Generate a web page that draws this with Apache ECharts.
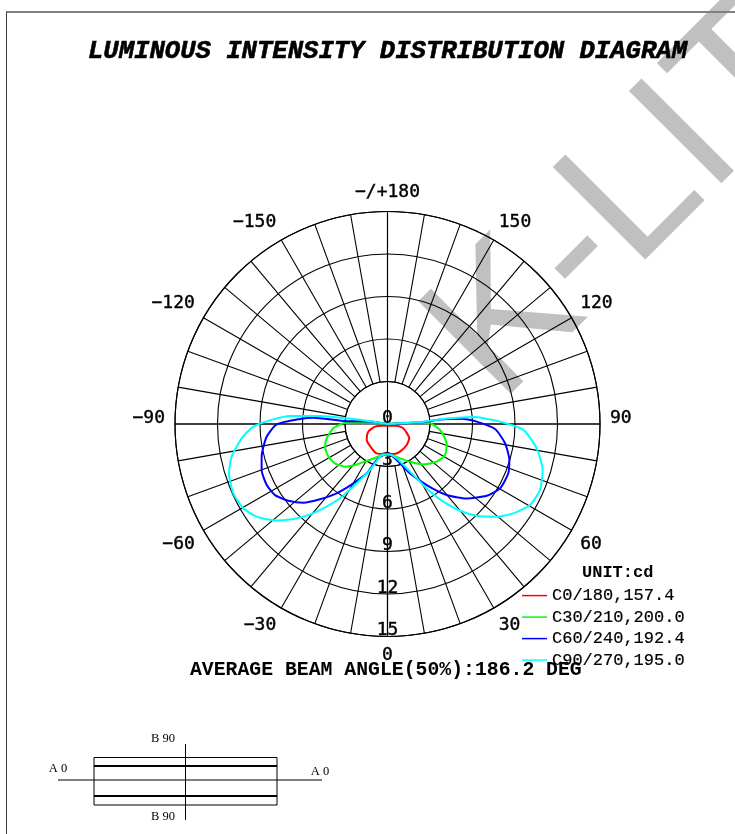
<!DOCTYPE html>
<html>
<head>
<meta charset="utf-8">
<style>
  html, body { margin: 0; background: #fff; }
  #main { width: 735px; height: 834px; }
</style>
</head>
<body>
<div id="main"></div>
<script src="https://cdn.jsdelivr.net/npm/echarts@6/dist/echarts.min.js"></script>
<script>
// angle from nadir (left side negative), intensity in ring units
const ringTicks = [0, 3, 6, 9, 12, 15]
const seriesNames = ['C0/180,157.4', 'C30/210,200.0', 'C60/240,192.4', 'C90/270,195.0']
const seriesColors = ['#ff0000', '#00ff00', '#0000ff', '#00ffff']

const c0Angles = [0, -74, -78, -68.2, -52.5, -33, -20.3, 0, 11, 24.3, 42.4, 56.7, 74.7, 79.7, 0]
const c0Values = [0.12, 0.43, 0.9, 1.46, 1.85, 2.05, 2.21, 2.12, 2.16, 2.14, 2.01, 1.84, 1.16, 0.66, 0.12]

const c30Angles = [-90, -95.5, -90.9, -85.4, -76.7, -70.1, -61.1, -53.2, -44.9, -38.4, -29.4, -18, -7.7, 0, 4.7, 17.8, 30.9, 41.6, 52.5, 61.7, 71.9, 83.5, 90.9, 94, 90]
const c30Values = [0, 1.48, 3.12, 3.84, 4.41, 4.69, 4.77, 4.63, 4.25, 3.69, 3, 2.47, 2.18, 2.16, 2.17, 2.5, 3.1, 3.81, 4.37, 4.61, 4.39, 3.73, 3, 1.36, 0]

const c60Angles = [-90, -99.4, -93.9, -94.9, -93.3, -89.8, -84, -75.4, -69.9, -63.2, -57.7, -52.3, -46.9, -41.9, -36.3, -29.9, -22.9, -16.7, -7.7, 0, 4.7, 14.3, 24.5, 32.7, 39.8, 46.8, 54.1, 60.2, 67.8, 73.5, 80.7, 87.3, 91.5, 93.8, 94.8, 92.9, 90]
const c60Values = [0, 1.01, 3.12, 5.25, 6.19, 7.82, 8.58, 9.18, 9.46, 9.55, 9.39, 8.85, 8.13, 7.14, 6.07, 4.83, 3.78, 2.65, 2.21, 2.16, 2.17, 2.62, 3.83, 5.12, 6.52, 7.67, 8.64, 9.15, 9.21, 8.97, 8.41, 7.6, 6.3, 5.37, 4.19, 2.3, 0]

const c90Angles = [-90, -99.4, -97.9, -96.8, -94.7, -92.3, -88.9, -84.4, -78.2, -72.7, -65.8, -59.7, -54.7, -49.4, -45.6, -41.4, -37.3, -32.6, -27.5, -20.8, -12.9, -6.5, 0, 4.7, 14.9, 25.3, 31.3, 35.7, 39.9, 44.2, 49.7, 54.6, 60.4, 66.6, 73.5, 80.7, 87.5, 91.7, 94.7, 95.2, 93.7, 90]
const c90Values = [0, 1.01, 2.91, 4.8, 6.91, 8.07, 9.47, 10.34, 11.24, 11.72, 11.93, 11.79, 11.32, 10.46, 9.63, 8.63, 7.48, 6.22, 4.72, 3.47, 2.37, 2.18, 2.16, 2.17, 2.51, 3.72, 5.32, 6.75, 7.98, 9.03, 10.11, 10.89, 11.57, 11.73, 11.42, 10.67, 9.6, 7.71, 6.08, 4.19, 2.53, 0]

const seriesAngles = [c0Angles, c30Angles, c60Angles, c90Angles]
const seriesValues = [c0Values, c30Values, c60Values, c90Values]

const center = [387.5, 424]
const gridFont = 'DejaVu Sans Mono'
const monoFont = 'Liberation Mono'
const gridLine = { color: '#000', width: 1.1 }

function toPolar(angles, values) {
  return values.map((v, i) => [v, angles[i] < 0 ? angles[i] + 360 : angles[i]])
}

function angleLabel(v) {
  if (v % 30 !== 0) return ''
  if (v === 180) return '\u2212/+180'
  if (v === 90) return '{side|90}'
  if (v === 270) return '{side|\u221290}'
  return v > 180 ? '\u2212' + (360 - v) : String(v)
}

function frameLine(x1, y1, x2, y2, color, width) {
  return { type: 'line', z: 1, shape: { x1, y1, x2, y2 }, style: { stroke: color, lineWidth: width } }
}

function smallText(text, x, y) {
  return {
    type: 'text', x, y, z: 1,
    style: { text, font: '12.5px "Liberation Serif"', fill: '#000', align: 'center', verticalAlign: 'middle' }
  }
}

const labelStyle = {
  fontFamily: gridFont, fontSize: 18, color: '#000',
  textBorderColor: '#000', textBorderWidth: 0.4
}

const chart = echarts.init(document.getElementById('main'))
chart.setOption({
  backgroundColor: '#fff',
  animation: false,
  title: [
    {
      text: 'LUMINOUS INTENSITY DISTRIBUTION DIAGRAM',
      left: 88, top: 39, padding: 0,
      textStyle: {
        fontFamily: monoFont, fontSize: 25.6, fontStyle: 'italic', fontWeight: 'bold', color: '#000',
        textBorderColor: '#000', textBorderWidth: 0.6
      }
    },
    {
      text: 'AVERAGE BEAM ANGLE(50%):186.2 DEG',
      left: 190, top: 660, padding: 0,
      textStyle: { fontFamily: monoFont, fontSize: 19.8, fontWeight: 'bold', color: '#000' }
    },
    {
      text: 'UNIT:cd',
      left: 582, top: 564, padding: 0,
      textStyle: { fontFamily: monoFont, fontSize: 17, fontWeight: 'bold', color: '#000' }
    }
  ],
  legend: {
    orient: 'vertical',
    left: 522, top: 587, padding: 0,
    icon: 'rect',
    itemWidth: 25, itemHeight: 1.5, itemGap: 4.3,
    textStyle: { fontFamily: monoFont, fontSize: 17, color: '#000', textBorderColor: '#000', textBorderWidth: 0.2 },
    data: seriesNames
  },
  polar: [
    { center, radius: [42.5, 212.5] },
    { center, radius: [0, 212.5] }
  ],
  angleAxis: [
    {
      polarIndex: 0,
      type: 'value', min: 0, max: 360, interval: 10,
      startAngle: 270, clockwise: false,
      axisLine: { lineStyle: gridLine },
      axisTick: { show: false },
      axisLabel: {
        margin: 10, formatter: angleLabel, ...labelStyle,
        rich: { side: { ...labelStyle, padding: [0, 0, 12, 0] } }
      },
      splitLine: { lineStyle: gridLine }
    },
    {
      polarIndex: 1,
      type: 'value', min: 0, max: 360, interval: 90,
      startAngle: 270, clockwise: false,
      axisLine: { show: false },
      axisTick: { show: false },
      axisLabel: { show: false },
      splitLine: { lineStyle: gridLine }
    }
  ],
  radiusAxis: [
    {
      polarIndex: 0,
      type: 'value', min: 0, max: 1,
      axisLine: { show: false }, axisTick: { show: false }, axisLabel: { show: false }, splitLine: { show: false }
    },
    {
      polarIndex: 1,
      type: 'value', min: ringTicks[0], max: ringTicks[ringTicks.length - 1], interval: 3,
      axisLine: { lineStyle: gridLine },
      axisTick: { show: false },
      axisLabel: {
        margin: 0, rotate: 0, align: 'center', verticalAlign: 'bottom', lineHeight: 12,
        ...labelStyle, showMinLabel: true, showMaxLabel: true
      },
      splitLine: { lineStyle: gridLine }
    }
  ],
  series: seriesNames.map((name, i) => ({
    name,
    type: 'line',
    coordinateSystem: 'polar',
    polarIndex: 1,
    symbol: 'none',
    smooth: 0.2,
    clip: false,
    z: 5,
    lineStyle: { color: seriesColors[i], width: 2 },
    itemStyle: { color: seriesColors[i] },
    data: toPolar(seriesAngles[i], seriesValues[i])
  })),
  graphic: {
    elements: [
      {
        type: 'text', x: 530, y: 435, rotation: Math.PI / 4, z: -10,
        style: { text: 'K-LIT', font: '190px "Liberation Sans"', fill: '#c0c0c0', align: 'left', verticalAlign: 'bottom' }
      },
      frameLine(6, 12, 735, 12, '#808080', 2),
      frameLine(6.5, 12, 6.5, 834, '#404040', 1),
      { type: 'rect', z: 1, shape: { x: 94, y: 757.5, width: 183, height: 47.5 }, style: { fill: 'none', stroke: '#000', lineWidth: 1 } },
      frameLine(94, 766, 277, 766, '#000', 2),
      frameLine(94, 796, 277, 796, '#000', 2),
      frameLine(58, 780, 322, 780, '#000', 1),
      frameLine(185.5, 744, 185.5, 820, '#000', 1),
      smallText('B 90', 163, 739),
      smallText('B 90', 163, 817),
      smallText('A 0', 58, 769),
      smallText('A 0', 320, 771.5)
    ]
  }
})
</script>
</body>
</html>
